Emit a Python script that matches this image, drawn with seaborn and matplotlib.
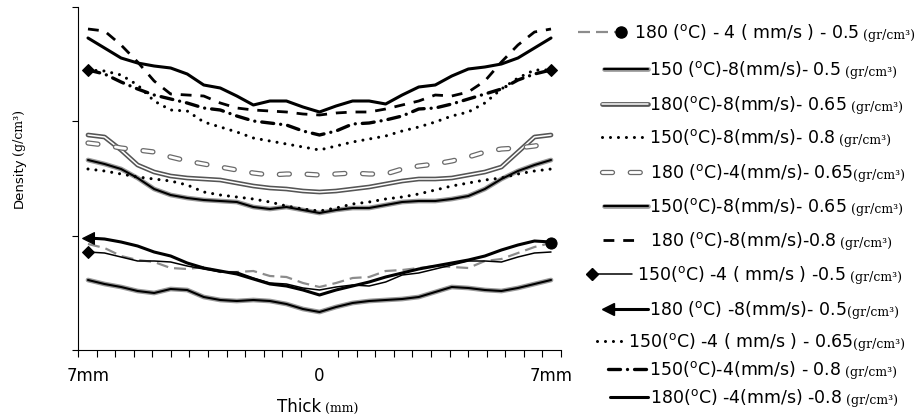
import numpy as np
import matplotlib
matplotlib.use('Agg')
import matplotlib.pyplot as plt
import matplotlib.patheffects as pe
import seaborn as sns

# positions across the thickness (mm), 0 = middle of the board
thick_mm = [-7.0, -6.5, -6.0, -5.5, -5.0, -4.5, -4.0, -3.5, -3.0, -2.5, -2.0, -1.5, -1.0, -0.5, 0.0,
            0.5, 1.0, 1.5, 2.0, 2.5, 3.0, 3.5, 4.0, 4.5, 5.0, 5.5, 6.0, 6.5, 7.0]

# density profiles (relative units, no scale printed on the original)
d_180_4_05 = [1.06, 1.02, 0.94, 0.90, 0.88, 0.82, 0.81, 0.83, 0.78, 0.78, 0.79, 0.74, 0.73, 0.67, 0.63,
              0.67, 0.72, 0.73, 0.79, 0.80, 0.82, 0.84, 0.83, 0.82, 0.89, 0.91, 0.97, 1.03, 1.07]
d_150_8_05 = [0.70, 0.66, 0.63, 0.59, 0.57, 0.61, 0.60, 0.53, 0.50, 0.49, 0.50, 0.49, 0.46, 0.41, 0.38,
              0.43, 0.47, 0.49, 0.50, 0.51, 0.53, 0.58, 0.63, 0.62, 0.60, 0.59, 0.62, 0.66, 0.70]
d_180_8_065 = [2.15, 2.13, 2.00, 1.85, 1.78, 1.74, 1.72, 1.71, 1.70, 1.67, 1.64, 1.62, 1.61, 1.59, 1.58,
               1.59, 1.61, 1.63, 1.66, 1.69, 1.71, 1.71, 1.72, 1.75, 1.78, 1.83, 1.98, 2.13, 2.15]
d_150_8_08 = [2.80, 2.79, 2.75, 2.65, 2.49, 2.40, 2.39, 2.28, 2.23, 2.18, 2.12, 2.09, 2.06, 2.03, 2.00,
              2.04, 2.08, 2.11, 2.14, 2.19, 2.23, 2.28, 2.34, 2.38, 2.47, 2.61, 2.72, 2.80, 2.80]
d_180_4_065 = [2.07, 2.05, 2.02, 2.00, 1.98, 1.93, 1.89, 1.86, 1.83, 1.80, 1.77, 1.75, 1.76, 1.76, 1.75,
               1.76, 1.77, 1.76, 1.76, 1.81, 1.84, 1.86, 1.89, 1.93, 1.98, 2.01, 2.02, 2.04, 2.07]
d_150_8_065 = [1.90, 1.86, 1.81, 1.72, 1.61, 1.55, 1.52, 1.50, 1.49, 1.48, 1.43, 1.41, 1.43, 1.40, 1.37,
               1.40, 1.42, 1.42, 1.45, 1.48, 1.49, 1.49, 1.51, 1.54, 1.61, 1.71, 1.79, 1.85, 1.90]
d_180_8_08 = [3.21, 3.19, 3.05, 2.88, 2.69, 2.56, 2.55, 2.54, 2.47, 2.42, 2.40, 2.39, 2.38, 2.36, 2.35,
              2.37, 2.38, 2.38, 2.41, 2.45, 2.49, 2.55, 2.54, 2.58, 2.69, 2.88, 3.05, 3.18, 3.21]
d_150_4_05 = [0.98, 0.97, 0.93, 0.89, 0.89, 0.88, 0.84, 0.81, 0.78, 0.78, 0.72, 0.67, 0.66, 0.62, 0.60,
              0.63, 0.65, 0.64, 0.68, 0.75, 0.77, 0.81, 0.85, 0.89, 0.89, 0.88, 0.93, 0.97, 0.98]
d_180_8_05 = [1.12, 1.11, 1.08, 1.04, 0.98, 0.94, 0.87, 0.82, 0.79, 0.76, 0.71, 0.66, 0.64, 0.60, 0.55,
              0.60, 0.64, 0.68, 0.73, 0.77, 0.81, 0.84, 0.87, 0.90, 0.94, 1.00, 1.05, 1.09, 1.08]
d_150_4_065 = [1.81, 1.79, 1.76, 1.73, 1.71, 1.69, 1.65, 1.58, 1.55, 1.53, 1.51, 1.48, 1.44, 1.41, 1.39,
               1.42, 1.46, 1.48, 1.51, 1.53, 1.56, 1.60, 1.64, 1.67, 1.70, 1.72, 1.76, 1.79, 1.81]
d_150_4_08 = [2.80, 2.76, 2.68, 2.61, 2.55, 2.51, 2.47, 2.42, 2.40, 2.34, 2.29, 2.27, 2.25, 2.19, 2.15,
              2.19, 2.26, 2.27, 2.30, 2.34, 2.41, 2.42, 2.46, 2.51, 2.56, 2.61, 2.70, 2.76, 2.80]
d_180_4_08 = [3.12, 3.02, 2.92, 2.87, 2.84, 2.82, 2.76, 2.65, 2.62, 2.54, 2.45, 2.49, 2.49, 2.43, 2.38,
              2.44, 2.49, 2.49, 2.46, 2.55, 2.63, 2.65, 2.74, 2.81, 2.83, 2.86, 2.92, 3.02, 3.12]

series = [d_180_4_05, d_150_8_05, d_180_8_065, d_150_8_08, d_180_4_065, d_150_8_065,
          d_180_8_08, d_150_4_05, d_180_8_05, d_150_4_065, d_150_4_08, d_180_4_08]

# legend text: main part and the small unit part
labels = [r'180 ($^{\mathrm{o}}$C) - 4 ( mm/s ) - 0.5',
          r'150 ($^{\mathrm{o}}$C)-8(mm/s)- 0.5',
          r'180($^{\mathrm{o}}$C)-8(mm/s)- 0.65',
          r'150($^{\mathrm{o}}$C)-8(mm/s)- 0.8',
          r'180 ($^{\mathrm{o}}$C)-4(mm/s)- 0.65',
          r'150($^{\mathrm{o}}$C)-8(mm/s)- 0.65',
          r'180 ($^{\mathrm{o}}$C)-8(mm/s)-0.8',
          r'150($^{\mathrm{o}}$C) -4 ( mm/s ) -0.5',
          r'180 ($^{\mathrm{o}}$C) -8(mm/s)- 0.5',
          r'150($^{\mathrm{o}}$C) -4 ( mm/s ) - 0.65',
          r'150($^{\mathrm{o}}$C)-4(mm/s) - 0.8',
          r'180($^{\mathrm{o}}$C) -4(mm/s) -0.8']
unit_gaps = [' ', ' ', ' ', ' ', '', ' ', ' ', ' ', '', '', ' ', ' ']

sns.set_style('ticks')
plt.rcParams['font.family'] = ['DejaVu Sans']
plt.rcParams['mathtext.fontset'] = 'dejavusans'
plt.rcParams['text.color'] = 'black'
plt.rcParams['xtick.color'] = 'black'
plt.rcParams['ytick.color'] = 'black'

# line looks (black & white print style)
halo_dark = [pe.Stroke(linewidth=3.4, foreground='#9a9a9a'), pe.Normal()]
halo_white = [pe.Stroke(linewidth=3.4, foreground='#555555'), pe.Normal()]
hollow = [pe.Stroke(linewidth=3.8, foreground='#6a6a6a'), pe.Normal()]
last = len(thick_mm) - 1

styles = [
    dict(color='#8c8c8c', lw=1.6, ls=(0, (5.4, 2.7)), marker='o', ms=8, mfc='black', mec='black', markevery=[last]),
    dict(color='black', lw=1.5, ls='-', path_effects=halo_dark),
    dict(color='white', lw=1.1, ls='-', path_effects=halo_white),
    dict(color='black', lw=2.2, ls=(0, (0.01, 2.6)), dash_capstyle='round'),
    dict(color='white', lw=2.0, ls=(0, (3.6, 6.4)), dash_capstyle='round', path_effects=hollow),
    dict(color='black', lw=1.5, ls='-', path_effects=halo_dark),
    dict(color='black', lw=2.0, ls=(0, (3.9, 3.2))),
    dict(color='black', lw=1.1, ls='-', marker='D', ms=6, mfc='black', mec='black', markevery=[0]),
    dict(color='black', lw=2.2, ls='-', marker='<', ms=9, mfc='black', mec='black', markevery=[0]),
    dict(color='black', lw=2.2, ls=(0, (0.01, 2.6)), dash_capstyle='round'),
    dict(color='black', lw=2.4, ls=(0, (3.6, 2.1, 0.01, 2.1)), dash_capstyle='round',
         marker='D', ms=6, mfc='black', mec='black', markevery=[0, last]),
    dict(color='black', lw=2.2, ls='-'),
]

fig = plt.figure(figsize=(9.19, 4.19), dpi=100)
ax = fig.add_axes([78 / 919, 69 / 419, 483 / 919, 343 / 419])

for vals, st in zip(series, styles):
    sns.lineplot(x=thick_mm, y=vals, ax=ax, errorbar=None, legend=False, **st)

ax.set_xlim(-7.302, 7.302)
ax.set_ylim(0, 3.43)
ax.set_xticks([-7, 0, 7], ['7mm', '0', '7mm'], fontsize=12)
ax.set_xticks(np.linspace(-7.302, 7.302, 27), minor=True)
ax.set_yticks(np.linspace(0, 3.43, 4))
ax.set_yticklabels([])
ax.tick_params(axis='x', which='major', length=0, pad=12, colors='black')
ax.tick_params(axis='x', which='minor', length=4.8, width=0.8, direction='out', color='black')
ax.tick_params(axis='y', length=4.5, width=0.8, direction='out', color='black')
ax.set_xlabel('')
ax.set_ylabel('')
sns.despine(ax=ax)
for s in ['left', 'bottom']:
    ax.spines[s].set_color('black')
    ax.spines[s].set_linewidth(0.8)

# overlay in pixel units for the labels and the hand made legend
lax = fig.add_axes([0, 0, 1, 1])
lax.set_xlim(0, 919)
lax.set_ylim(419, 0)
lax.axis('off')

t = lax.text(19, 208, 'Density', rotation=90, fontsize=9.5, ha='center', va='bottom')
lax.annotate('(g/cm³)', xy=(0.5, 1), xycoords=t, xytext=(0, 2), textcoords='offset points',
             rotation=90, ha='center', va='bottom', fontsize=9, family='DejaVu Serif')
t = lax.text(299, 407, 'Thick', fontsize=12, ha='center', va='center')
lax.annotate('(mm)', xy=(1, 0), xycoords=t, xytext=(3, 0), textcoords='offset points',
             ha='left', va='bottom', fontsize=9, family='DejaVu Serif')

leg_y = [32, 69, 104, 137, 172, 206, 240, 274, 309, 341, 369, 397]
hx0 = [578, 604, 602, 602, 602, 604, 603, 592, 608, 597, 608, 610]
hx1 = [621, 648, 648, 646, 646, 648, 636, 632, 648, 626, 646, 648]
tx = [634, 649, 649, 649, 650, 649, 650, 637, 649, 628, 649, 650]

for i, st in enumerate(styles):
    hs = dict(st)
    if 'markevery' in hs:
        if i == 0:
            hs['markevery'] = [1]
        elif i == 10:
            hs.pop('marker')
            hs.pop('markevery')
        else:
            hs['markevery'] = [0]
    lax.plot([hx0[i], hx1[i]], [leg_y[i], leg_y[i]], **hs)
    t = lax.text(tx[i], leg_y[i] + 6, labels[i], fontsize=12.5, ha='left', va='baseline')
    lax.annotate(unit_gaps[i] + '(gr/cm³)', xy=(1, 0), xycoords=t, ha='left', va='bottom',
                 fontsize=9, family='DejaVu Serif')

plt.savefig('out.png', dpi=100)
